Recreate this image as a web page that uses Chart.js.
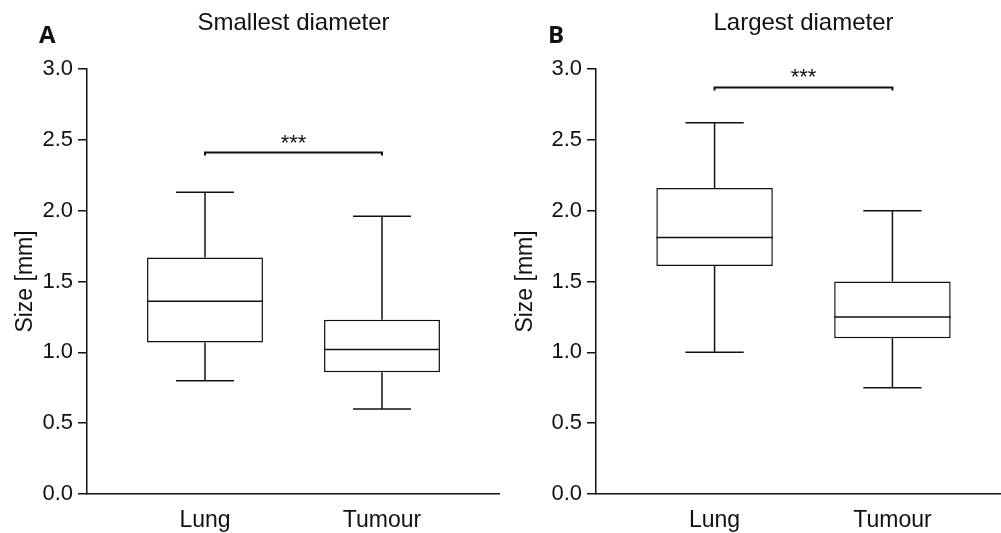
<!DOCTYPE html>
<html>
<head>
<meta charset="utf-8">
<script src="https://cdn.jsdelivr.net/npm/chart.js@4.4.0/dist/chart.umd.min.js"></script>
<style>
  body { margin: 0; background: #fff; }
  #wrap { display: flex; width: 1001px; height: 533px; overflow: hidden; }
  .panel { position: relative; height: 533px; flex: none; }
</style>
</head>
<body>
<div id="wrap">
  <div class="panel" style="width:500px"><canvas id="chartA"></canvas></div>
  <div class="panel" style="width:511px"><canvas id="chartB"></canvas></div>
</div>
<script>
const categories = ["Lung", "Tumour"]
const yTicks = [0, 0.5, 1.0, 1.5, 2.0, 2.5, 3.0]

// Smallest diameter (box plot: min, Q1, median, Q3, max)
const smallestMin = [0.80, 0.60]
const smallestQ1 = [1.07, 0.86]
const smallestMedian = [1.36, 1.02]
const smallestQ3 = [1.67, 1.23]
const smallestMax = [2.13, 1.96]
const smallestBracket = 2.41

// Largest diameter
const largestMin = [1.00, 0.75]
const largestQ1 = [1.61, 1.10]
const largestMedian = [1.81, 1.25]
const largestQ3 = [2.16, 1.50]
const largestMax = [2.62, 2.00]
const largestBracket = 2.87

const significance = "***"

const FONT = "'Liberation Sans', Arial, sans-serif"
const INK = "#111"

//#region box plot extras (whiskers, medians, bracket, titles)
MakeBoxPlugin = (stats, bracket, title, letter) => ({
    id: "boxExtras",
    afterDatasetsDraw(chart) {
        let { ctx, scales: { x, y }, chartArea } = chart
        let meta = chart.getDatasetMeta(0)
        let line = (x1, y1, x2, y2) => {
            ctx.beginPath(); ctx.moveTo(x1, y1); ctx.lineTo(x2, y2); ctx.stroke()
        }
        ctx.save()
        ctx.strokeStyle = INK
        ctx.lineWidth = 1.5
        meta.data.forEach((bar, i) => {
            let half = bar.width / 2, cap = bar.width / 4
            let pMin = y.getPixelForValue(stats.min[i])
            let pMax = y.getPixelForValue(stats.max[i])
            let pQ1 = y.getPixelForValue(stats.q1[i])
            let pQ3 = y.getPixelForValue(stats.q3[i])
            let pMed = y.getPixelForValue(stats.median[i])
            line(bar.x, pQ3, bar.x, pMax)
            line(bar.x - cap, pMax, bar.x + cap, pMax)
            line(bar.x, pQ1, bar.x, pMin)
            line(bar.x - cap, pMin, bar.x + cap, pMin)
            line(bar.x - half, pMed, bar.x + half, pMed)
        })

        // significance bracket
        let bx1 = x.getPixelForValue(1), bx2 = x.getPixelForValue(2)
        let by = y.getPixelForValue(bracket)
        ctx.lineWidth = 2
        ctx.beginPath()
        ctx.moveTo(bx1, by + 3); ctx.lineTo(bx1, by); ctx.lineTo(bx2, by); ctx.lineTo(bx2, by + 3)
        ctx.stroke()
        ctx.fillStyle = INK
        ctx.textAlign = "center"
        ctx.textBaseline = "alphabetic"
        ctx.font = `22px ${FONT}`
        ctx.fillText(significance, (bx1 + bx2) / 2, by - 3)

        // panel title
        ctx.font = `24px ${FONT}`
        ctx.fillText(title, (chartArea.left + chartArea.right) / 2, 30)

        // panel letter
        ctx.textAlign = "left"
        ctx.font = `bold 24px 'Open Sans', ${FONT}`
        ctx.fillText(letter, chartArea.left - 48, 43)
        ctx.restore()
    }
})
//#endregion

//#region chart
CreateBoxChart = (canvasId, stats, bracket, title, letter, axisWidth) => {
    new Chart(canvasId, {
        type: "bar",
        data: {
            datasets: [{
                data: categories.map((c, i) => ({ x: i + 1, y: [stats.q1[i], stats.q3[i]] })),
                backgroundColor: "#fff",
                borderColor: INK,
                borderWidth: 1.5,
                borderSkipped: false,
                categoryPercentage: 1,
                barPercentage: 0.655
            }]
        },
        options: {
            responsive: true,
            maintainAspectRatio: false,
            animation: false,
            devicePixelRatio: 1,
            layout: { padding: { top: 69, right: 0, bottom: 0, left: 0 } },
            plugins: { legend: { display: false }, tooltip: { enabled: false } },
            scales: {
                x: {
                    type: "linear",
                    min: 1 / 3,
                    max: 8 / 3,
                    offset: false,
                    afterBuildTicks: s => { s.ticks = categories.map((c, i) => ({ value: i + 1 })) },
                    ticks: {
                        callback: v => categories[v - 1],
                        font: { family: FONT, size: 23 },
                        color: INK,
                        padding: 13,
                        maxRotation: 0,
                        autoSkip: false
                    },
                    grid: { display: false, drawTicks: false },
                    border: { display: true, color: INK, width: 1.5 },
                    afterFit: s => { s.height = 39 }
                },
                y: {
                    min: 0,
                    max: 3,
                    afterBuildTicks: s => { s.ticks = yTicks.map(v => ({ value: v })) },
                    ticks: {
                        callback: v => v.toFixed(1),
                        font: { family: FONT, size: 22 },
                        color: INK,
                        padding: 5
                    },
                    grid: { drawOnChartArea: false, tickLength: 9, color: INK, lineWidth: 1.5 },
                    border: { color: INK, width: 1.5 },
                    title: {
                        display: true,
                        text: "Size [mm]",
                        font: { family: FONT, size: 23 },
                        color: INK,
                        padding: { top: 12, bottom: 0 }
                    },
                    afterFit: s => { s.width = axisWidth }
                }
            }
        },
        plugins: [MakeBoxPlugin(stats, bracket, title, letter)]
    })
}
//#endregion

CreateBoxChart("chartA",
    { min: smallestMin, q1: smallestQ1, median: smallestMedian, q3: smallestQ3, max: smallestMax },
    smallestBracket, "Smallest diameter", "A", 87)

CreateBoxChart("chartB",
    { min: largestMin, q1: largestQ1, median: largestMedian, q3: largestQ3, max: largestMax },
    largestBracket, "Largest diameter", "B", 96)
</script>
</body>
</html>
